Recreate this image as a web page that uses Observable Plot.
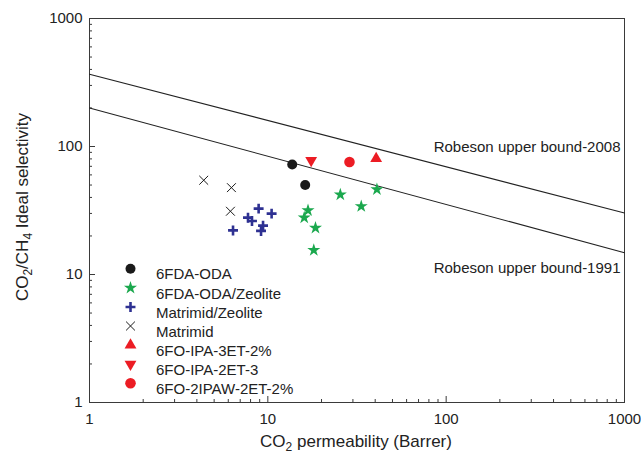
<!DOCTYPE html>
<html><head><meta charset="utf-8">
<script src="https://cdn.jsdelivr.net/npm/d3@7"></script>
<script src="https://cdn.jsdelivr.net/npm/@observablehq/plot@0.6"></script>
<style>body{margin:0;background:#fff} svg{display:block}</style>
</head><body><div id="chart"></div>
<script>
// ---- data ----
const seriesNames = ["6FDA-ODA","6FDA-ODA/Zeolite","Matrimid/Zeolite","Matrimid","6FO-IPA-3ET-2%","6FO-IPA-2ET-3","6FO-2IPAW-2ET-2%"];
const fdaOda = [[13.7,72.3],[16.2,50]];
const fdaOdaZeolite = [[25.5,42],[40.9,46.2],[33.4,34.1],[16.8,31.7],[16.0,27.8],[18.5,23.1],[18.1,15.5]];
const matrimidZeolite = [[8.88,32.7],[10.5,29.9],[7.74,27.8],[8.15,26.2],[9.4,24.1],[9.16,21.9],[6.38,22.1]];
const matrimid = [[4.37,54.5],[6.25,47.7],[6.17,31.2]];
const ipa3et = [[40.5,80.5]];
const ipa2et = [[17.5,78]];
const ipaw2et = [[28.7,75.7]];
const robeson2008 = [[1,367],[1000,30.2]];
const robeson1991 = [[1,200],[1000,14.8]];
const boundLabels = [{x:1000, y:98.6, label:"Robeson upper bound-2008"},{x:1000, y:11.2, label:"Robeson upper bound-1991"}];
const majorTicks = [1,10,100,1000];
const minorTicks = [2,3,4,5,6,7,8,9,20,30,40,50,60,70,80,90,200,300,400,500,600,700,800,900];

// ---- styles ----
const RED = "#ec1c24", GREEN = "#1ba84e", BLUE = "#2e3192", BLACK = "#1a1a1a";
const styles = [
  {symbol:"circle", fill:BLACK, stroke:"none", r:5},
  {symbol:"star", fill:GREEN, stroke:"none", r:4.1},
  {symbol:"plus", fill:"none", stroke:BLUE, r:3.3, strokeWidth:2.6},
  {symbol:"times", fill:"none", stroke:BLACK, r:4.1, strokeWidth:1},
  {symbol:"triangle", fill:RED, stroke:"none", r:4.4},
  {symbol:"triangle", fill:RED, stroke:"none", r:4.4, rotate:180},
  {symbol:"circle", fill:RED, stroke:"none", r:5.3}
];
const seriesData = [fdaOda, fdaOdaZeolite, matrimidZeolite, matrimid, ipa3et, ipa2et, ipaw2et];

const W = 641, H = 462, mL = 89, mR = 17, mT = 18, mB = 60;
const pw = W - mL - mR, ph = H - mT - mB;
const FONT = "Liberation Sans, Arial, Helvetica, sans-serif";
const AX = "#3a3a3a";

const marks = [
  Plot.frame({stroke: AX, strokeWidth: 1}),
  Plot.tickX(majorTicks, {x: d => d, insetTop: ph - 6, stroke: AX}),
  Plot.tickX(minorTicks, {x: d => d, insetTop: ph - 3, stroke: AX}),
  Plot.tickY(majorTicks, {y: d => d, insetRight: pw - 6, stroke: AX}),
  Plot.tickY(minorTicks, {y: d => d, insetRight: pw - 3, stroke: AX}),
  Plot.axisX(majorTicks, {tickSize: 0, tickPadding: 11, fontSize: 15, tickFormat: d => String(d), fill: "#222", label: null}),
  Plot.axisY(majorTicks, {tickSize: 0, tickPadding: 7, fontSize: 15, tickFormat: d => String(d), fill: "#222", label: null}),
  Plot.line(robeson2008, {x: d => d[0], y: d => d[1], stroke: "#222", strokeWidth: 1.1}),
  Plot.line(robeson1991, {x: d => d[0], y: d => d[1], stroke: "#222", strokeWidth: 1.1}),
  Plot.text(boundLabels, {x: "x", y: "y", text: "label", textAnchor: "end", dx: -4, fontSize: 15, fill: "#222"})
];
seriesData.forEach((data, i) => {
  const s = styles[i];
  marks.push(Plot.dot(data, {x: d => d[0], y: d => d[1], ...s}));
});
// legend inside the plot
seriesNames.forEach((name, i) => {
  const s = styles[i];
  const dy = 250.3 + i * 19.07;
  marks.push(Plot.dot([name], {frameAnchor: "top-left", dx: 41, dy, ...s}));
  marks.push(Plot.text([name], {frameAnchor: "top-left", dx: 66.5, dy, text: d => d, textAnchor: "start", fontSize: 15, fill: "#222"}));
});

const svg = Plot.plot({
  width: W, height: H,
  marginLeft: mL, marginRight: mR, marginTop: mT, marginBottom: mB,
  style: {fontFamily: FONT, background: "#fff"},
  x: {type: "log", domain: [1, 1000], label: null},
  y: {type: "log", domain: [1, 1000], label: null},
  marks
});

// axis titles with subscripts
const s = d3.select(svg);
const xt = s.append("text").attr("x", 356).attr("y", 447).attr("text-anchor", "middle")
  .attr("font-family", FONT).attr("font-size", 17).attr("fill", "#222");
xt.append("tspan").text("CO");
xt.append("tspan").attr("dy", 4).attr("font-size", 12).text("2");
xt.append("tspan").attr("dy", -4).text(" permeability (Barrer)");

const yt = s.append("text").attr("transform", "translate(28,207) rotate(-90)").attr("text-anchor", "middle")
  .attr("font-family", FONT).attr("font-size", 17).attr("fill", "#222");
yt.append("tspan").text("CO");
yt.append("tspan").attr("dy", 4).attr("font-size", 12).text("2");
yt.append("tspan").attr("dy", -4).text("/CH");
yt.append("tspan").attr("dy", 4).attr("font-size", 12).text("4");
yt.append("tspan").attr("dy", -4).text(" Ideal selectivity");

document.getElementById("chart").appendChild(svg);
</script>
</body></html>
